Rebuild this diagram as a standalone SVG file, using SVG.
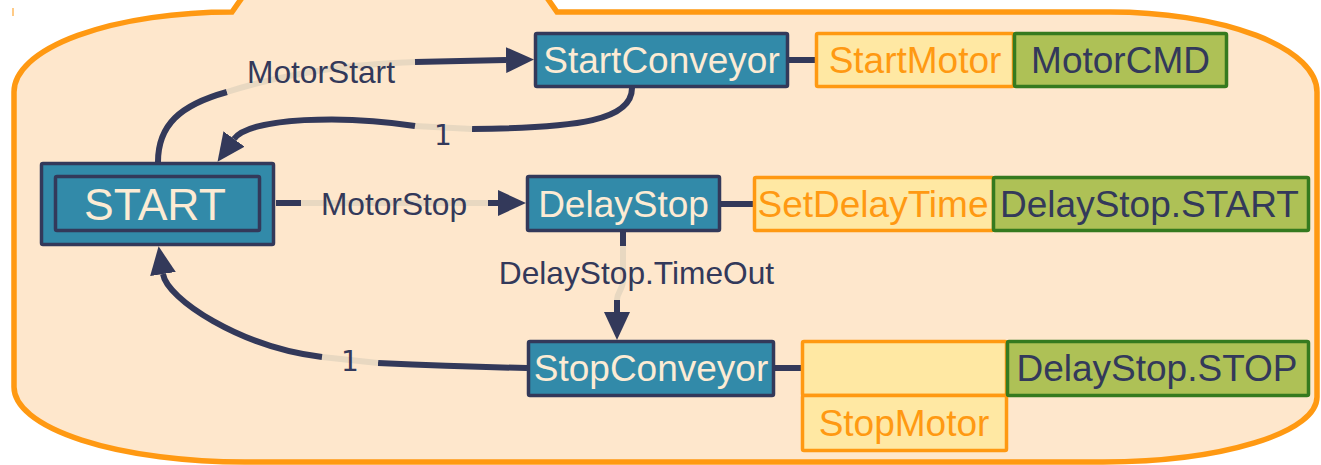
<svg xmlns="http://www.w3.org/2000/svg" width="1321" height="465" viewBox="0 0 1321 465">
<defs>
<style>
.state rect{fill:#328AA9;stroke:#33395A;stroke-width:3.5}
.state text{fill:#FCEBD4;font-family:"Liberation Sans",Arial,sans-serif;font-size:37px;text-anchor:middle}
.act rect{fill:#FFE8A3;stroke:#FF9912;stroke-width:3.5}
.act text{fill:#FF9912;font-family:"Liberation Sans",Arial,sans-serif;font-size:37px;text-anchor:middle}
.var rect{fill:#AEC156;stroke:#357A1F;stroke-width:3.5}
.var text{fill:#33395A;font-family:"Liberation Sans",Arial,sans-serif;font-size:37px;text-anchor:middle}
.ln{fill:none;stroke:#33395A;stroke-width:6}
.lt{fill:none;stroke:#E8D8C1;stroke-width:6}
.lbl{fill:#33395A;font-family:"Liberation Sans",Arial,sans-serif;font-size:31.7px;text-anchor:middle}
.num{fill:#33395A;font-family:"DejaVu Sans","Liberation Sans",sans-serif;font-size:28px;text-anchor:middle}
</style>
<marker id="arr" markerUnits="userSpaceOnUse" viewBox="0 0 28 26" markerWidth="28" markerHeight="26" refX="0" refY="13" orient="auto">
<path d="M0,0 L28,13 L0,26 Z" fill="#33395A"/>
</marker>
</defs>
<g id="container">
<path d="M14,92 A218,80 0 0 1 232,12 L246,-8 L543,-8 L557,12 L1110,12 A207,80 0 0 1 1317,92 L1317,397 A214,65 0 0 1 1103,462 L245,462 A231,75 0 0 1 14,387 Z" fill="#FEE7CC" stroke="#FF9912" stroke-width="5.5"/>
<line x1="13" y1="8" x2="13" y2="16" stroke="#FF9912" stroke-width="2" opacity="0.5"/>
</g>
<g id="connectors">
<path class="ln" d="M158,162 C158,125 180,105 227,92"/>
<path class="lt" d="M227,92 C290,72 350,64 415,62"/>
<path class="ln" d="M415,62 L506,60" marker-end="url(#arr)"/>
<text class="lbl" x="321" y="83">MotorStart</text>

<path class="ln" d="M632,88 C632,120 580,128 472,129"/>
<path class="lt" d="M472,129 L415,126"/>
<path class="ln" d="M415,126 C345,115 250,117 234,139" marker-end="url(#arr)"/>
<text class="num" x="443" y="145">1</text>

<path class="ln" d="M276,203 L301,203"/>
<path class="lt" d="M301,203 L488,203"/>
<path class="ln" d="M488,203 L498,203" marker-end="url(#arr)"/>
<text class="lbl" x="394" y="215">MotorStop</text>

<path class="ln" d="M623,232 L623,246"/>
<path class="lt" d="M623,246 L623,280 C623,290 617,292 617,300"/>
<path class="ln" d="M617,300 L617,312" marker-end="url(#arr)"/>
<text class="lbl" x="636.5" y="284">DelayStop.TimeOut</text>

<path class="ln" d="M527,368 C470,367 420,365 378,363"/>
<path class="lt" d="M378,363 L322,357"/>
<path class="ln" d="M322,357 C240,347 167,299 163,274" marker-end="url(#arr)"/>
<text class="num" x="350" y="371">1</text>

<path class="ln" d="M789,60 L816,60"/>
<path class="ln" d="M721,204 L754,204"/>
<path class="ln" d="M775,368 L802,368"/>
</g>
<g id="START" class="state">
<rect x="41.5" y="163.5" width="232" height="81" rx="1.5"/>
<rect x="55.5" y="176.5" width="204" height="54" rx="1.5"/>
<text x="155" y="220" style="font-size:44.5px">START</text>
</g>
<g id="StartConveyor" class="state">
<rect x="535.5" y="33.5" width="252" height="53" rx="1.5"/>
<text x="661.5" y="73">StartConveyor</text>
</g>
<g id="StartMotor" class="act">
<rect x="816.5" y="33.5" width="197" height="53" rx="1.5"/>
<text x="915" y="73">StartMotor</text>
</g>
<g id="MotorCMD" class="var">
<rect x="1014.5" y="33.5" width="212" height="53" rx="1.5"/>
<text x="1120.5" y="73">MotorCMD</text>
</g>
<g id="DelayStop" class="state">
<rect x="527.5" y="176.5" width="192" height="54" rx="1.5"/>
<text x="623.5" y="217">DelayStop</text>
</g>
<g id="SetDelayTime" class="act">
<rect x="754.5" y="177.5" width="239" height="53" rx="1.5"/>
<text x="873" y="217">SetDelayTime</text>
</g>
<g id="DelayStop.START" class="var">
<rect x="993.5" y="177.5" width="315" height="53" rx="1.5"/>
<text x="1149.5" y="217">DelayStop.START</text>
</g>
<g id="StopConveyor" class="state">
<rect x="528.5" y="341.5" width="245" height="54" rx="1.5"/>
<text x="651" y="381">StopConveyor</text>
</g>
<g id="StopAction" class="act">
<rect x="802.5" y="341.5" width="204" height="54" rx="1.5"/>
<rect x="802.5" y="395.5" width="204" height="55" rx="1.5"/>
<text x="904" y="436">StopMotor</text>
</g>
<g id="DelayStop.STOP" class="var">
<rect x="1007.5" y="341.5" width="301" height="54" rx="1.5"/>
<text x="1157" y="381">DelayStop.STOP</text>
</g>
</svg>
